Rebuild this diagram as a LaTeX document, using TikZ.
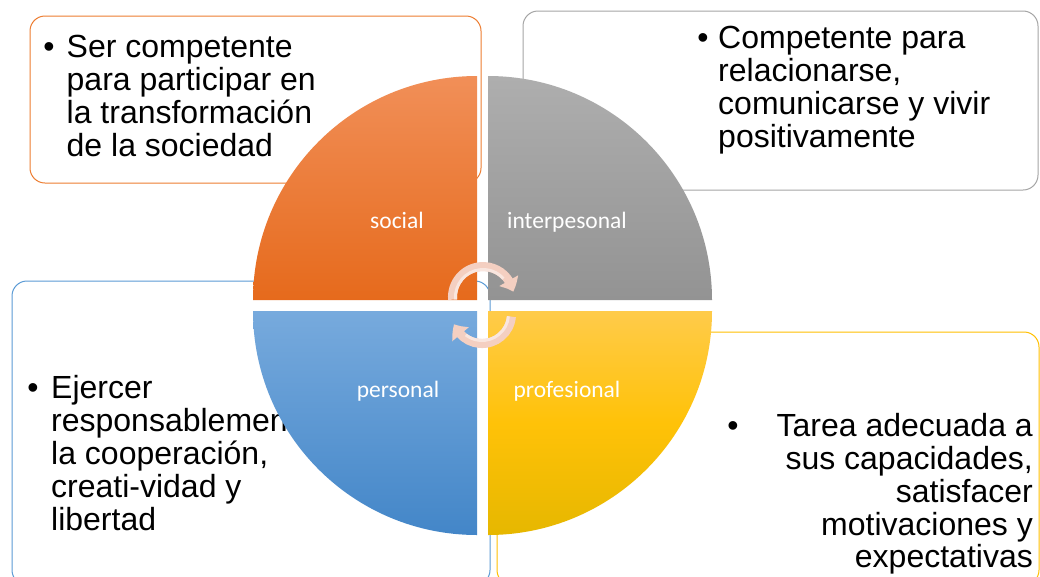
\documentclass[tikz,border=0pt]{standalone}
\usepackage{fontspec}
\setmainfont{Liberation Sans}
\newfontfamily\carlito{Carlito}
\usetikzlibrary{arrows.meta,bending}
\definecolor{cOr}{HTML}{ED7D31}
\definecolor{cGr}{HTML}{A5A5A5}
\definecolor{cBl}{HTML}{5B9BD5}
\definecolor{cYe}{HTML}{FFC000}
\definecolor{orTop}{HTML}{F18F58}
\definecolor{orBot}{HTML}{E66A1C}
\definecolor{grTop}{HTML}{AEAEAE}
\definecolor{grBot}{HTML}{939393}
\definecolor{blTop}{HTML}{77AADD}
\definecolor{blBot}{HTML}{4386C8}
\definecolor{yeTop}{HTML}{FFCB4A}
\definecolor{yeMid}{HTML}{FFC208}
\definecolor{yeBot}{HTML}{E6B700}
\definecolor{arrPink}{HTML}{F4CFC1}
\definecolor{arrLight}{HTML}{F9E6DF}
\begin{document}
\begin{tikzpicture}[x=1pt,y=-1pt,
  box/.style={line width=1pt, fill=white, rounded corners=15pt},
  txt/.style={anchor=base west, inner sep=0pt, font=\fontsize{32}{33}\selectfont},
  txtr/.style={anchor=base east, inner sep=0pt, font=\fontsize{32}{33}\selectfont},
  bul/.style={anchor=base, inner sep=0pt, font=\fontsize{32}{33}\selectfont},
  lbl/.style={anchor=base, inner sep=0pt, text=white, font=\carlito\fontsize{23.5}{28}\selectfont},
  cyc/.style={line width=9pt, draw=arrPink, -{Triangle[length=12pt,width=21pt,bend]}},
  cycin/.style={line width=3pt, draw=arrLight}
]
\useasboundingbox (0,0) rectangle (1040,576);
\clip (0,0) rectangle (1040,576);
\fill[white] (0,0) rectangle (1040,576);

% background boxes
\draw[box, draw=cOr] (30,16) rectangle (481,183);
\draw[box, draw=cGr] (523,11) rectangle (1038,190);
\draw[box, draw=cBl] (12,281) rectangle (490,585);
\draw[box, draw=cYe] (497,332) rectangle (1039,585);

% texts
\node[bul] (tlb) at (49,57) {•};
\node[txt] (tl1) at (66.5,57) {Ser competente};
\node[txt] (tl2) at (66.5,90) {para participar en};
\node[txt] (tl3) at (66.5,123) {la transformación};
\node[txt] (tl4) at (66.5,156) {de la sociedad};

\node[bul] (trb) at (703,48) {•};
\node[txt] (tr1) at (718,48) {Competente para};
\node[txt] (tr2) at (718,81) {relacionarse,};
\node[txt] (tr3) at (718,114) {comunicarse y vivir};
\node[txt] (tr4) at (718,147) {positivamente};

\node[bul] (blb) at (33,398) {•};
\node[txt] (bl1) at (51,398) {Ejercer};
\node[txt] (bl2) at (51,431) {responsablemente};
\node[txt] (bl3) at (51,464) {la cooperación,};
\node[txt] (bl4) at (51,497) {creati-vidad y};
\node[txt] (bl5) at (51,530) {libertad};

\node[bul] (brb) at (733,436) {•};
\node[txtr] (br1) at (1033,436) {Tarea adecuada a};
\node[txtr] (br2) at (1033,469) {sus capacidades,};
\node[txtr] (br3) at (1033,502) {satisfacer};
\node[txtr] (br4) at (1033,535) {motivaciones y};
\node[txtr] (br5) at (1033,567) {expectativas};

% quadrants
\shade[top color=orTop, bottom color=orBot]
  (477,300) -- (253,300) arc[start angle=180, end angle=270, radius=224] -- cycle;
\shade[top color=grTop, bottom color=grBot]
  (488,300) -- (488,76) arc[start angle=270, end angle=360, radius=224] -- cycle;
\shade[top color=blTop, bottom color=blBot]
  (477,311) -- (253,311) arc[start angle=180, end angle=90, radius=224] -- cycle;
\shade[top color=yeTop, bottom color=yeBot, middle color=yeMid]
  (488,311) -- (712,311) arc[start angle=0, end angle=90, radius=224] -- cycle;

% quadrant labels
\node[lbl] (social) at (397,228) {social};
\node[lbl] (inter) at (567,228) {interpesonal};
\node[lbl] (pers) at (398,397) {personal};
\node[lbl] (prof) at (567,397) {profesional};

% cycle arrows
\draw[cyc] (452.6,299.7) arc[start angle=175, end angle=350, radius=30.5];
\draw[cycin] (455.6,299.4) arc[start angle=175, end angle=318, radius=27.5];
\draw[cyc] (511.4,316.6) arc[start angle=5, end angle=160, radius=29.5];
\draw[cycin] (508.4,316.3) arc[start angle=5, end angle=128, radius=26.5];
\end{tikzpicture}
\end{document}
